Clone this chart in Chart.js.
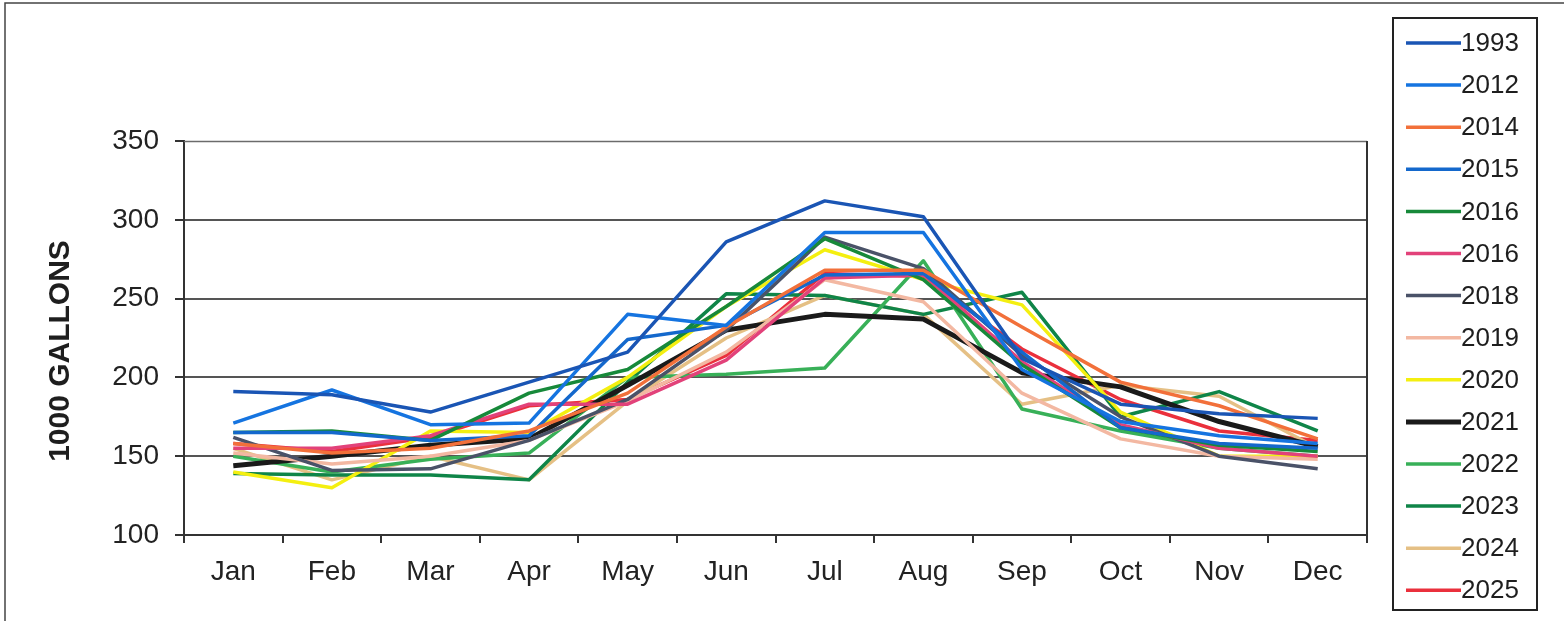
<!DOCTYPE html>
<html>
<head>
<meta charset="utf-8">
<script src="https://cdn.jsdelivr.net/npm/chart.js@4.4.1/dist/chart.umd.min.js"></script>
<style>
  html, body { margin: 0; padding: 0; background: #ffffff; }
  #wrap { position: relative; width: 1564px; height: 621px; }
  canvas { display: block; }
</style>
</head>
<body>
<div id="wrap"><canvas id="c" width="1564" height="621"></canvas></div>
<script>
// Monthly water use, thousands of gallons
const months = ['Jan', 'Feb', 'Mar', 'Apr', 'May', 'Jun', 'Jul', 'Aug', 'Sep', 'Oct', 'Nov', 'Dec'];
const yTicks = [100, 150, 200, 250, 300, 350];
const yTitle = '1000 GALLONS';

const years = ['1993', '2012', '2014', '2015', '2016', '2016', '2018', '2019', '2020', '2021', '2022', '2023', '2024', '2025'];

const y1993  = [191, 189, 178, 197, 216, 286, 312, 302, 212, 183, 177, 174];
const y2012  = [171, 192, 170, 171, 240, 233, 292, 292, 205, 172, 163, 158];
const y2014  = [158, 152, 155, 166, 190, 232, 268, 268, 232, 197, 182, 161];
const y2015  = [165, 165, 160, 163, 224, 233, 265, 266, 216, 168, 158, 155];
const y2016a = [165, 166, 160, 190, 205, 245, 288, 262, 208, 168, 157, 153];
const y2016b = [155, 155, 163, 183, 183, 211, 263, 265, 210, 170, 155, 150];
const y2018  = [162, 141, 142, 160, 186, 230, 289, 269, 214, 175, 150, 142];
const y2019  = [152, 145, 150, 160, 185, 216, 262, 248, 190, 161, 150, 148];
const y2020  = [140, 130, 166, 165, 200, 245, 281, 262, 246, 178, 150, 150];
const y2021  = [144, 150, 157, 161, 195, 230, 240, 237, 203, 194, 172, 156];
const y2022  = [150, 140, 148, 152, 200, 202, 206, 274, 180, 166, 155, 150];
const y2023  = [139, 138, 138, 135, 197, 253, 252, 240, 254, 175, 191, 166];
const y2024  = [155, 135, 150, 135, 185, 225, 252, 240, 183, 195, 188, 155];
const y2025  = [158, 153, 162, 182, 186, 214, 266, 264, 218, 186, 166, 160];

const seriesValues = [y1993, y2012, y2014, y2015, y2016a, y2016b, y2018, y2019, y2020, y2021, y2022, y2023, y2024, y2025];
const seriesColors = ['#1a55b4', '#1574e0', '#f2703a', '#1468cc', '#17893a', '#e2427a', '#4a5268',
                      '#f3b8a2', '#f4ef10', '#1a1a1a', '#38b058', '#0f8548', '#e5c085', '#ea303c'];
const seriesWidths = [3.5, 3.5, 3.5, 3.5, 3.5, 3.5, 3.5, 3.5, 3.5, 5, 3.5, 3.5, 3.5, 3.5];

const FONT = "'Liberation Sans', Arial, sans-serif";

const datasets = years.map((label, i) => ({
  label: label,
  data: seriesValues[i],
  borderColor: seriesColors[i],
  backgroundColor: seriesColors[i],
  borderWidth: seriesWidths[i],
  pointRadius: 0,
  tension: 0,
  borderJoinStyle: 'round',
  fill: false
}));

// Frame around the plot, outer border, axis title and the boxed legend on the right
const framePlugin = {
  id: 'frame',
  beforeDatasetsDraw(chart) {
    const { ctx, chartArea: a } = chart;
    ctx.save();
    ctx.strokeStyle = '#6b6b6b';
    ctx.lineWidth = 1.5;
    ctx.beginPath();
    ctx.moveTo(a.left, a.top + 0.5);
    ctx.lineTo(a.right, a.top + 0.5);
    ctx.stroke();
    ctx.strokeStyle = '#333';
    ctx.lineWidth = 2;
    ctx.beginPath();
    ctx.moveTo(a.right, a.top);
    ctx.lineTo(a.right, a.bottom);
    ctx.stroke();
    ctx.restore();
  },
  afterDraw(chart) {
    const { ctx } = chart;
    ctx.save();
    // outer chart border
    ctx.strokeStyle = '#444';
    ctx.lineWidth = 1.5;
    ctx.beginPath();
    ctx.moveTo(5, 621);
    ctx.lineTo(5, 3);
    ctx.lineTo(1564, 3);
    ctx.stroke();

    // rotated y-axis title
    ctx.save();
    ctx.translate(61, 351);
    ctx.rotate(-Math.PI / 2);
    ctx.font = 'bold 30px ' + FONT;
    ctx.fillStyle = '#1e1e1e';
    ctx.textAlign = 'center';
    ctx.textBaseline = 'middle';
    ctx.fillText(yTitle, 0, 0);
    ctx.restore();

    // legend box
    const bx = 1393, by = 18, bw = 144, bh = 592;
    ctx.strokeStyle = '#222';
    ctx.lineWidth = 2;
    ctx.strokeRect(bx, by, bw, bh);
    const step = 42.1;
    ctx.font = '26px ' + FONT;
    ctx.textBaseline = 'middle';
    ctx.textAlign = 'left';
    chart.data.datasets.forEach((ds, i) => {
      const yy = 43 + i * step;
      ctx.strokeStyle = ds.borderColor;
      ctx.lineWidth = ds.borderWidth;
      ctx.beginPath();
      ctx.moveTo(1406, yy);
      ctx.lineTo(1461, yy);
      ctx.stroke();
      ctx.fillStyle = '#1e1e1e';
      ctx.fillText(ds.label, 1461, yy + 1);
    });
    ctx.restore();
  }
};

new Chart(document.getElementById('c'), {
  type: 'line',
  data: { labels: months, datasets: datasets },
  options: {
    responsive: false,
    animation: false,
    events: [],
    layout: { padding: { left: 0, right: 197, top: 141, bottom: 0 } },
    plugins: {
      legend: { display: false },
      tooltip: { enabled: false }
    },
    scales: {
      x: {
        type: 'category',
        offset: true,
        afterFit(scale) { scale.height = 86; },
        grid: {
          offset: true,
          drawOnChartArea: false,
          drawTicks: true,
          tickLength: 8,
          color: '#333',
          lineWidth: 2
        },
        border: { display: true, color: '#333', width: 2 },
        ticks: {
          color: '#222',
          padding: 12,
          font: { family: FONT, size: 28 }
        }
      },
      y: {
        min: 100,
        max: 350,
        afterFit(scale) { scale.width = 184; },
        afterBuildTicks(scale) { scale.ticks = yTicks.map(v => ({ value: v })); },
        grid: {
          color: (c) => (c.tick && (c.tick.value === 350 || c.tick.value === 100)) ? 'rgba(0,0,0,0)' : '#555',
          lineWidth: 2,
          drawTicks: true,
          tickLength: 9,
          tickColor: '#333'
        },
        border: { display: true, color: '#333', width: 2 },
        ticks: {
          color: '#222',
          padding: 16,
          font: { family: FONT, size: 28 }
        }
      }
    }
  },
  plugins: [framePlugin]
});
</script>
</body>
</html>
